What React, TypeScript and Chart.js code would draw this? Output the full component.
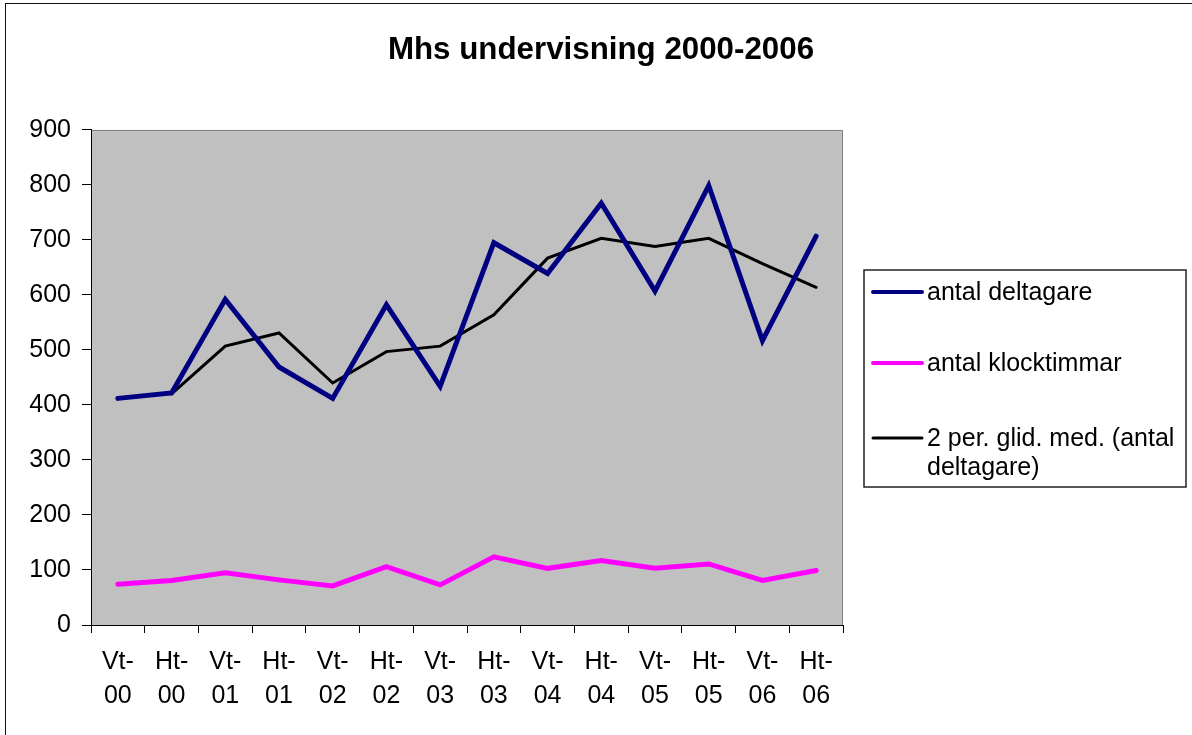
import React, { useEffect, useRef } from "react";
import { Chart, registerables } from "chart.js";

Chart.register(...registerables);

const TITLE = "Mhs undervisning 2000-2006";
const categories: string[][] = [
  ["Vt-", "00"], ["Ht-", "00"], ["Vt-", "01"], ["Ht-", "01"], ["Vt-", "02"], ["Ht-", "02"], ["Vt-", "03"],
  ["Ht-", "03"], ["Vt-", "04"], ["Ht-", "04"], ["Vt-", "05"], ["Ht-", "05"], ["Vt-", "06"], ["Ht-", "06"],
];
const deltagare: number[] = [412, 422, 592, 469, 412, 582, 434, 695, 639, 767, 607, 799, 517, 707];
const klocktimmar: number[] = [74, 81, 95, 82, 71, 106, 73, 124, 103, 117, 103, 111, 81, 99];
const glidMedel: (number | null)[] = [null, 420, 507, 531, 440, 497, 507, 564, 667, 703, 688, 703, 657, 614];
const seriesNames: string[][] = [
  ["antal deltagare"],
  ["antal klocktimmar"],
  ["2 per. glid. med. (antal", "deltagare)"],
];
const yTicks = { min: 0, max: 900, step: 100 };

const FONT = '"Liberation Sans", Arial, Helvetica, sans-serif';

const framePlugin = {
  id: "frame",
  beforeDraw(chart: any) {
    const { ctx, chartArea } = chart;
    ctx.save();
    ctx.fillStyle = "#ffffff";
    ctx.fillRect(0, 0, chart.width, chart.height);
    ctx.fillStyle = "#C0C0C0";
    ctx.fillRect(chartArea.left, chartArea.top, chartArea.right - chartArea.left, chartArea.bottom - chartArea.top);
    ctx.strokeStyle = "#808080";
    ctx.lineWidth = 1;
    ctx.beginPath();
    ctx.moveTo(chartArea.left, chartArea.top + 0.5);
    ctx.lineTo(chartArea.right - 0.5, chartArea.top + 0.5);
    ctx.lineTo(chartArea.right - 0.5, chartArea.bottom);
    ctx.stroke();
    ctx.restore();
  },
  afterDraw(chart: any) {
    const { ctx } = chart;
    const boxL = 864, boxT = 270, boxR = 1186, boxB = 487;
    ctx.save();
    ctx.strokeStyle = "#222";
    ctx.lineWidth = 1.5;
    ctx.strokeRect(boxL, boxT, boxR - boxL, boxB - boxT);
    const rows = [292, 363, 438];
    ctx.font = `25px ${FONT}`;
    ctx.textBaseline = "middle";
    ctx.textAlign = "left";
    chart.data.datasets.forEach((ds: any, i: number) => {
      const y = rows[i];
      ctx.strokeStyle = ds.borderColor;
      ctx.lineWidth = i === 2 ? 3 : 4;
      ctx.lineCap = "round";
      ctx.beginPath();
      ctx.moveTo(873, y);
      ctx.lineTo(922, y);
      ctx.stroke();
      ctx.fillStyle = "#000";
      const lines = seriesNames[i];
      lines.forEach((t, k) => ctx.fillText(t, 927, y + 1 + k * 29));
    });
    ctx.restore();
  },
};

export default function App() {
  const ref = useRef<HTMLCanvasElement>(null);
  useEffect(() => {
    if (!ref.current) return;
    const chart = new Chart(ref.current, {
      type: "line",
      data: {
        labels: categories,
        datasets: [
          {
            label: seriesNames[0].join(" "),
            data: deltagare,
            borderColor: "#000080",
            backgroundColor: "#000080",
            borderWidth: 5,
            pointRadius: 0,
            borderCapStyle: "round",
            tension: 0,
          },
          {
            label: seriesNames[1].join(" "),
            data: klocktimmar,
            borderColor: "#FF00FF",
            backgroundColor: "#FF00FF",
            borderWidth: 5,
            pointRadius: 0,
            borderCapStyle: "round",
            tension: 0,
          },
          {
            label: seriesNames[2].join(" "),
            data: glidMedel,
            borderColor: "#000000",
            backgroundColor: "#000000",
            borderWidth: 3,
            pointRadius: 0,
            borderCapStyle: "round",
            tension: 0,
          },
        ],
      },
      options: {
        responsive: false,
        animation: false,
        layout: { padding: { left: 10, right: 0, top: 0, bottom: 0 } },
        plugins: {
          legend: { display: false },
          tooltip: { enabled: false },
          title: {
            display: true,
            text: TITLE,
            color: "#000",
            font: { family: FONT, size: 31.3, weight: "bold", lineHeight: 1.2 },
            padding: { top: 32, bottom: 60.4 },
          },
        },
        scales: {
          x: {
            type: "category",
            offset: true,
            grid: { offset: true, drawOnChartArea: false, drawTicks: true, tickLength: 8, color: "#000" },
            border: { display: true, color: "#000", width: 1 },
            ticks: {
              color: "#000",
              font: { family: FONT, size: 25, lineHeight: 1.36 },
              padding: 12,
              maxRotation: 0,
              minRotation: 0,
              autoSkip: false,
            },
            afterFit: (s: any) => { s.height = 110; },
          },
          y: {
            position: "left",
            min: yTicks.min,
            max: yTicks.max,
            grid: { drawOnChartArea: false, drawTicks: true, tickLength: 9, color: "#000" },
            border: { display: true, color: "#000", width: 1 },
            ticks: {
              stepSize: yTicks.step,
              color: "#000",
              font: { family: FONT, size: 25 },
              padding: 11,
            },
            afterFit: (s: any) => { s.width = 81; },
          },
          yRight: {
            position: "right",
            display: true,
            min: 0,
            max: 1,
            grid: { display: false, drawTicks: false },
            border: { display: false },
            ticks: { display: false },
            afterFit: (s: any) => { s.width = 349; },
          },
        },
      } as any,
      plugins: [framePlugin],
    });
    return () => chart.destroy();
  }, []);
  return (
    <div style={{ position: "fixed", left: 0, top: 0, width: 1192, height: 735, overflow: "hidden", background: "#fff" }}>
      <canvas ref={ref} width={1192} height={735} style={{ position: "absolute", left: 0, top: 0, display: "block" }} />
      <div
        style={{
          position: "absolute",
          left: 5,
          top: 3,
          width: 1400,
          height: 1000,
          border: "1.5px solid #111",
          pointerEvents: "none",
        }}
      />
    </div>
  );
}
